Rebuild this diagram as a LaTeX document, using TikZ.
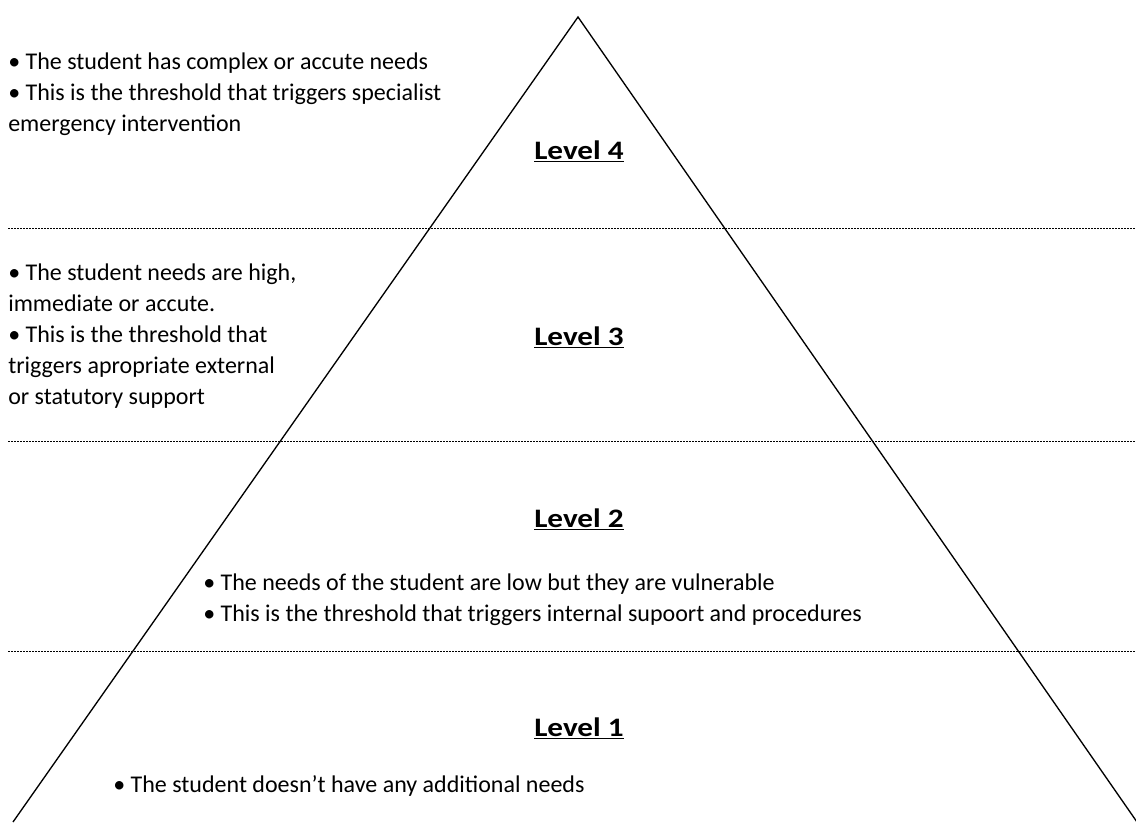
\documentclass[tikz,border=0pt]{standalone}
\usepackage{fontspec}
\setmainfont{Carlito}
\usepackage{tikz}
\usetikzlibrary{positioning}

\tikzset{
  note/.style={anchor=north west, inner sep=0pt, align=left,
    font=\fontsize{18pt}{23.25pt}\selectfont},
  levelname/.style={anchor=base, inner sep=0pt,
    font=\fontsize{20pt}{25pt}\selectfont\bfseries\addfontfeature{FakeStretch=1.17}},
  divider/.style={line width=0.75pt, dash pattern=on 1.5pt off 0.75pt}
}

\begin{document}
\begin{tikzpicture}[x=0.75pt, y=-0.75pt]
  \useasboundingbox (0,0) rectangle (1136,822);

  \coordinate (top) at (578,17);
  \coordinate (bl) at (13,822);
  \coordinate (br) at (1137,822);

  % Pyramid
  \draw[line width=1pt, line join=miter] (bl) -- (top) -- (br);

  % Dividers
  \draw[divider] (8,228) -- (1136,228);
  \draw[divider] (8,441) -- (1136,441);
  \draw[divider] (8,651) -- (1136,651);

  % Levels
  \node[levelname] (lvl4) at (579,159) {\underline{Level 4}};
  \node[levelname] (lvl3) at (579,345) {\underline{Level 3}};
  \node[levelname] (lvl2) at (579,527) {\underline{Level 2}};
  \node[levelname] (lvl1) at (579,736) {\underline{Level 1}};

  % Notes
  \node[note] (note4) at (8,53)
    {• The student has complex or accute needs\\
    • This is the threshold that triggers specialist\\
    emergency intervention};
  \node[note] (note3) at (8,264) {• The student needs are high,\\
    immediate or accute.\\
    • This is the threshold that\\
    triggers apropriate external\\
    or statutory support};
  \node[note] (note2) at (203,574)
    {• The needs of the student are low but they are vulnerable\\
    • This is the threshold that triggers internal supoort and procedures};
  \node[note] (note1) at (113,775)
    {• The student doesn't have any additional needs};
\end{tikzpicture}
\end{document}
